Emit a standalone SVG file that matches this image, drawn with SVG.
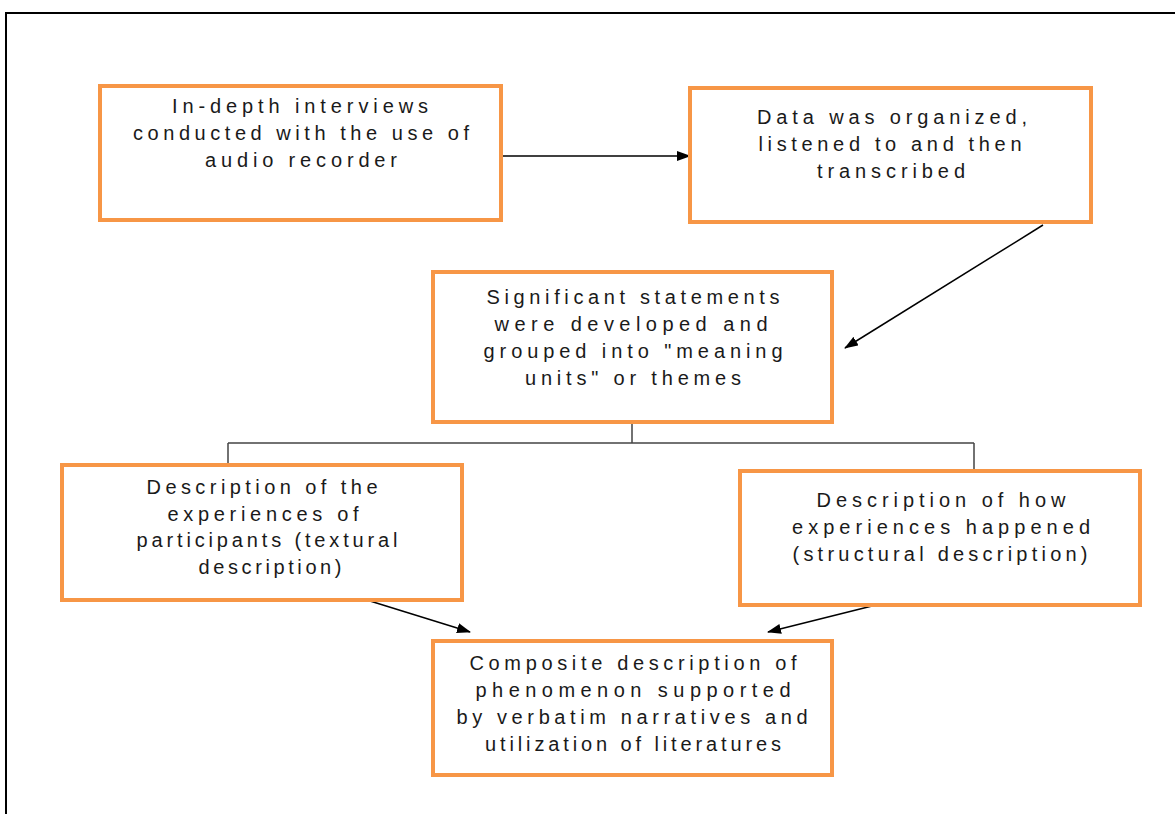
<svg xmlns="http://www.w3.org/2000/svg" width="1175" height="814" viewBox="0 0 1175 814">
<defs>
<marker id="ah" markerWidth="14" markerHeight="10" refX="13" refY="5" orient="auto" markerUnits="userSpaceOnUse">
<path d="M0,0 L14,5 L0,10 Z" fill="#000"/>
</marker>
<style>
.box{fill:#fff;stroke:#F79646;stroke-width:4}
.t{font-family:"Liberation Sans",Arial,sans-serif;font-size:20px;fill:#1a1a1a;text-anchor:middle}
.arr{stroke:#000;stroke-width:1.5;fill:none;marker-end:url(#ah)}
.tree{stroke:#444;stroke-width:1.5;fill:none}
</style>
</defs>
<rect width="1175" height="814" fill="#fff"/>
<path d="M6,814 V13 H1175" fill="none" stroke="#000" stroke-width="2"/>
<g id="connectors">
<line class="arr" x1="502" y1="156" x2="690" y2="156"/>
<line class="arr" x1="1043" y1="225" x2="845" y2="348"/>
<path class="tree" d="M632,423 V443 M228,443 H974 M228,443 V465 M974,443 V471"/>
<line class="arr" x1="370" y1="601" x2="470" y2="632"/>
<line class="arr" x1="876" y1="605" x2="768" y2="632"/>
</g>
<g id="n1">
<rect class="box" x="100" y="86" width="401" height="134"/>
<text class="t" x="300" y="113" textLength="256" lengthAdjust="spacing">In-depth interviews</text>
<text class="t" x="301" y="140" textLength="336" lengthAdjust="spacing">conducted with the use of</text>
<text class="t" x="301" y="167" textLength="192" lengthAdjust="spacing">audio recorder</text>
</g>
<g id="n2">
<rect class="box" x="690" y="88" width="401" height="134"/>
<text class="t" x="892" y="124" textLength="270" lengthAdjust="spacing">Data was organized,</text>
<text class="t" x="890" y="151" textLength="263" lengthAdjust="spacing">listened to and then</text>
<text class="t" x="891" y="178" textLength="148" lengthAdjust="spacing">transcribed</text>
</g>
<g id="n3">
<rect class="box" x="433" y="272" width="399" height="150"/>
<text class="t" x="633" y="304" textLength="293" lengthAdjust="spacing">Significant statements</text>
<text class="t" x="631" y="331" textLength="273" lengthAdjust="spacing">were developed and</text>
<text class="t" x="633" y="358" textLength="299" lengthAdjust="spacing">grouped into "meaning</text>
<text class="t" x="633" y="385" textLength="216" lengthAdjust="spacing">units" or themes</text>
</g>
<g id="n4">
<rect class="box" x="62" y="465" width="400" height="135"/>
<text class="t" x="262" y="494" textLength="231" lengthAdjust="spacing">Description of the</text>
<text class="t" x="263" y="521" textLength="191" lengthAdjust="spacing">experiences of</text>
<text class="t" x="267" y="547" textLength="261" lengthAdjust="spacing">participants (textural</text>
<text class="t" x="270" y="574" textLength="143" lengthAdjust="spacing">description)</text>
</g>
<g id="n5">
<rect class="box" x="740" y="471" width="400" height="134"/>
<text class="t" x="941" y="507" textLength="249" lengthAdjust="spacing">Description of how</text>
<text class="t" x="941" y="534" textLength="298" lengthAdjust="spacing">experiences happened</text>
<text class="t" x="940" y="561" textLength="295" lengthAdjust="spacing">(structural description)</text>
</g>
<g id="n6">
<rect class="box" x="433" y="641" width="399" height="134"/>
<text class="t" x="633" y="670" textLength="327" lengthAdjust="spacing">Composite description of</text>
<text class="t" x="633" y="697" textLength="315" lengthAdjust="spacing">phenomenon supported</text>
<text class="t" x="632" y="724" textLength="351" lengthAdjust="spacing">by verbatim narratives and</text>
<text class="t" x="633" y="751" textLength="296" lengthAdjust="spacing">utilization of literatures</text>
</g>
</svg>
